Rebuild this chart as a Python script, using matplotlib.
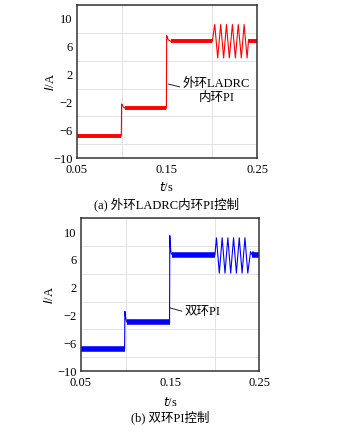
import matplotlib
matplotlib.use("Agg")
import matplotlib.pyplot as plt
import numpy as np

plt.rcParams['font.family'] = ['Liberation Serif', 'Noto Sans CJK SC']
plt.rcParams['mathtext.fontset'] = 'custom'

# ---------------- data ----------------
x_ticks = [0.05, 0.15, 0.25]
y_ticks = [-10, -6, -2, 2, 6, 10]

# (a) outer-loop LADRC, inner-loop PI  (red)
a_band_t = [[0.05, 0.0995], [0.1035, 0.1495], [0.1545, 0.2005], [0.2405, 0.25]]
a_band_v = [[-6.8, -6.8], [-2.8, -2.8], [6.8, 6.8], [6.8, 6.8]]
a_trans_t = [0.0995, 0.0998, 0.1005, 0.1015, 0.1035,
             0.1495, 0.1498, 0.1505, 0.1515, 0.1545]
a_trans_v = [-6.8, -2.2, -2.3, -2.6, -2.8,
             -2.8, 7.6, 7.4, 7.0, 6.8]
a_osc_t = [0.2005, 0.2031, 0.2064, 0.2097, 0.2130, 0.2161, 0.2193, 0.2227,
           0.2260, 0.2292, 0.2326, 0.2357, 0.2390, 0.2405]
a_osc_v = [6.8, 9.2, 4.4, 9.2, 4.4, 9.2, 4.4, 9.2, 4.4, 9.2, 4.4, 9.2, 4.4, 6.8]

# (b) double-loop PI  (blue)
b_band_t = [[0.05, 0.0990], [0.1020, 0.1495], [0.1525, 0.2005], [0.2425, 0.25]]
b_band_v = [[-6.85, -6.85], [-3.0, -3.0], [6.75, 6.75], [6.7, 6.7]]
b_trans_t = [0.0990, 0.0993, 0.1000, 0.1010, 0.1020,
             0.1495, 0.1498, 0.1503, 0.1512, 0.1525]
b_trans_v = [-6.85, -1.4, -2.2, -2.8, -3.0,
             -3.0, 9.5, 8.0, 7.0, 6.75]
b_osc_t = [0.2005, 0.2022, 0.2054, 0.2086, 0.2118, 0.2150, 0.2182, 0.2214,
           0.2246, 0.2278, 0.2310, 0.2342, 0.2374, 0.2405, 0.2425]
b_osc_v = [6.75, 9.2, 4.1, 9.2, 4.1, 9.2, 4.1, 9.2, 4.1, 9.2, 4.1, 9.2, 4.1, 7.2, 6.7]
b_tail_t = [0.2425, 0.2432, 0.2445]
b_tail_v = [6.7, 7.2, 6.7]

fig = plt.figure(figsize=(3.51, 4.33), dpi=100)


def style_axes(ax, ylab_x, xlab_y):
    ax.set_xlim(0.05, 0.25)
    ax.set_ylim(-10, 12)
    ax.set_xticks(x_ticks)
    ax.set_xticklabels(['0.05', '0.15', '0.25'])
    ax.set_yticks(y_ticks)
    ax.set_yticklabels(['\u221210', '\u22126', '\u22122', '2', '6', '10'])
    ax.set_xticks(np.arange(0.05, 0.2501, 0.05), minor=True)
    ax.set_yticks(np.arange(-10, 12.01, 2), minor=True)
    ax.grid(which='minor', color='#e3e3e3', lw=0.7)
    ax.set_axisbelow(True)
    ax.tick_params(which='both', length=0, labelsize=9)
    ax.tick_params(axis='x', pad=4)
    ax.tick_params(axis='y', pad=3)
    for s in ax.spines.values():
        s.set_color('#333333')
        s.set_linewidth(1.1)
    ax.set_xlabel('$\\it{t}$/s', fontsize=9)
    ax.set_ylabel('$\\it{I}$/A', fontsize=9)
    ax.yaxis.set_label_coords(ylab_x, 0.5)
    ax.xaxis.set_label_coords(0.5, xlab_y)


# ---- (a) ----
ax1 = fig.add_axes([76.7 / 351, 1 - 158.3 / 433, 180.3 / 351, 153.3 / 433])
style_axes(ax1, -0.112, -0.148)
red = '#ff0000'
for t, v in zip(a_band_t, a_band_v):
    ax1.plot(t, v, color=red, lw=2.8, solid_capstyle='butt')
ax1.plot(a_trans_t[:5], a_trans_v[:5], color=red, lw=0.8)
ax1.plot(a_trans_t[5:], a_trans_v[5:], color=red, lw=0.8)
ax1.plot(a_osc_t, a_osc_v, color=red, lw=0.8)
ax1.annotate('外环LADRC\n内环PI', xy=(0.1517, 0.65), xytext=(0.1675, -0.3),
             fontsize=9, ha='left', va='center', multialignment='center',
             arrowprops=dict(arrowstyle='-', color='#222222', lw=0.7,
                             shrinkA=0, shrinkB=0, relpos=(0, 0.62)))
fig.text(167 / 351, 1 - 204 / 433, '(a) 外环LADRC内环PI控制', fontsize=9,
         ha='center', va='center')

# ---- (b) ----
ax2 = fig.add_axes([81 / 351, 1 - 371 / 433, 178 / 351, 152.7 / 433])
style_axes(ax2, -0.139, -0.164)
blue = '#0000ff'
for t, v in zip(b_band_t, b_band_v):
    ax2.plot(t, v, color=blue, lw=4.0, solid_capstyle='butt')
ax2.plot(b_trans_t[:5], b_trans_v[:5], color=blue, lw=0.8)
ax2.plot(b_trans_t[5:], b_trans_v[5:], color=blue, lw=0.8)
ax2.plot(b_osc_t, b_osc_v, color=blue, lw=0.8)
ax2.plot(b_tail_t, b_tail_v, color=blue, lw=0.8)
ax2.annotate('双环PI', xy=(0.1497, -0.9), xytext=(0.1665, -1.5),
             fontsize=9, ha='left', va='center',
             arrowprops=dict(arrowstyle='-', color='#222222', lw=0.7,
                             shrinkA=0, shrinkB=0, relpos=(0, 0.5)))
fig.text(170 / 351, 1 - 417 / 433, '(b) 双环PI控制', fontsize=9,
         ha='center', va='center')

fig.savefig('out.png', dpi=100)
